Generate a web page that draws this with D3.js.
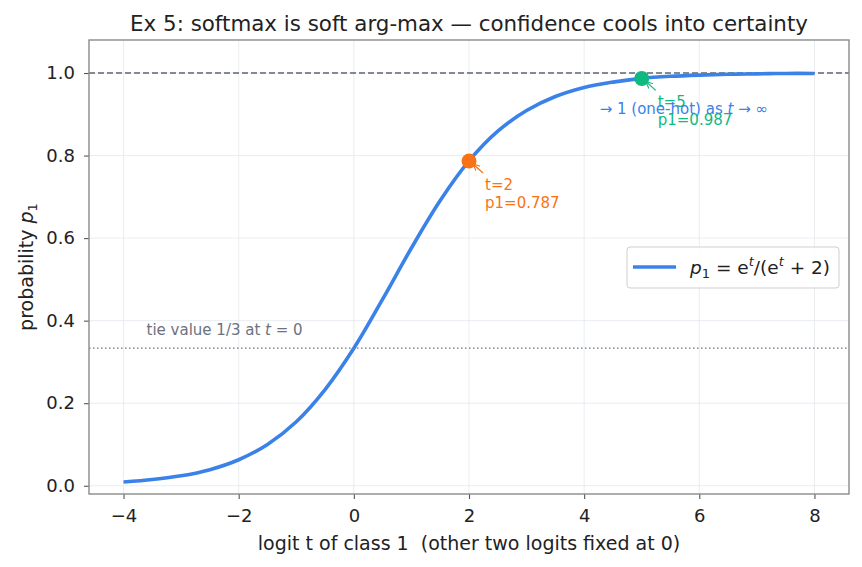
<!DOCTYPE html>
<html>
<head>
<meta charset="utf-8">
<script src="https://cdn.jsdelivr.net/npm/d3@7"></script>
<style>
  body { margin: 0; background: #fff; }
  svg text { font-family: "DejaVu Sans", sans-serif; }
</style>
</head>
<body>
<div id="chart"></div>
<script>
// curve p1
var tVals = [-4, -3.5, -3, -2.5, -2, -1.5, -1, -0.5, 0, 0.5, 1, 1.5, 2, 2.5, 3, 3.5, 4, 4.5, 5, 5.5, 6, 6.5, 7, 7.5, 8];
var pVals = [0.009, 0.015, 0.024, 0.039, 0.063, 0.100, 0.155, 0.233, 0.333, 0.452, 0.576, 0.691, 0.787, 0.859, 0.909, 0.943, 0.965, 0.978, 0.987, 0.992, 0.995, 0.997, 0.998, 0.999, 0.999];

// highlighted points
var markT = [2, 5];
var markP = [0.787, 0.987];
var markColors = ["#f97316", "#10b981"];

var xTicks = [-4, -2, 0, 2, 4, 6, 8];
var yTicks = [0, 0.2, 0.4, 0.6, 0.8, 1.0];

var W = 862, H = 567;
var margin = {left: 89, right: 13, top: 40, bottom: 73};
var width = W - margin.left - margin.right;
var height = H - margin.top - margin.bottom;

var svg = d3.select("#chart").append("svg")
    .attr("width", W)
    .attr("height", H);

var g = svg.append("g")
    .attr("transform", "translate(" + margin.left + "," + margin.top + ")");

var x = d3.scaleLinear().domain([-4.6, 8.6]).range([0, width]);
var y = d3.scaleLinear().domain([-0.02, 1.08]).range([height, 0]);

// grid
g.selectAll(".gx").data(xTicks).enter().append("line")
    .attr("x1", function(d) { return x(d); })
    .attr("x2", function(d) { return x(d); })
    .attr("y1", 0).attr("y2", height)
    .attr("stroke", "#e3e8ee").attr("stroke-width", 0.8);
g.selectAll(".gy").data(yTicks).enter().append("line")
    .attr("y1", function(d) { return y(d); })
    .attr("y2", function(d) { return y(d); })
    .attr("x1", 0).attr("x2", width)
    .attr("stroke", "#e3e8ee").attr("stroke-width", 0.8);

// reference lines
g.append("line")
    .attr("x1", 0).attr("x2", width)
    .attr("y1", y(1)).attr("y2", y(1))
    .attr("stroke", "#5f6670").attr("stroke-width", 1.3)
    .attr("stroke-dasharray", "6,3");
g.append("line")
    .attr("x1", 0).attr("x2", width)
    .attr("y1", y(1 / 3)).attr("y2", y(1 / 3))
    .attr("stroke", "#6b7280").attr("stroke-width", 1.3)
    .attr("stroke-dasharray", "1.5,2.5");

g.append("text")
    .attr("x", x(-3.6)).attr("y", y(1 / 3) - 13)
    .attr("font-size", 15).attr("fill", "#6b7280")
    .html('tie value 1/3 at <tspan font-style="italic">t</tspan> = 0');

// curve
var pts = tVals.map(function(t, i) { return [t, pVals[i]]; });
g.append("path")
    .datum(pts)
    .attr("fill", "none")
    .attr("stroke", "#3b82e8")
    .attr("stroke-width", 3.6)
    .attr("d", d3.line()
        .x(function(d) { return x(d[0]); })
        .y(function(d) { return y(d[1]); })
        .curve(d3.curveCatmullRom));

// arrow heads
var defs = svg.append("defs");
markColors.forEach(function(c, i) {
    defs.append("marker")
        .attr("id", "arr" + i)
        .attr("viewBox", "0 0 10 10")
        .attr("refX", 9).attr("refY", 5)
        .attr("markerWidth", 6).attr("markerHeight", 6)
        .attr("orient", "auto")
        .append("path")
        .attr("d", "M0,1 L9,5 L0,9")
        .attr("fill", "none")
        .attr("stroke", c)
        .attr("stroke-width", 1.5);
});

// annotated points
markT.forEach(function(t, i) {
    var px = x(t), py = y(markP[i]);
    var c = markColors[i];
    g.append("line")
        .attr("x1", px + 14).attr("y1", py + 12)
        .attr("x2", px + 4).attr("y2", py + 3)
        .attr("stroke", c).attr("stroke-width", 1.3)
        .attr("marker-end", "url(#arr" + i + ")");
    g.append("circle")
        .attr("cx", px).attr("cy", py).attr("r", 7.5)
        .attr("fill", c);
    var tx = g.append("text")
        .attr("x", px + 16).attr("y", py + 29)
        .attr("font-size", 15).attr("fill", c);
    tx.append("tspan").attr("x", px + 16).text("t=" + t);
    tx.append("tspan").attr("x", px + 16).attr("dy", 18).text("p1=" + markP[i].toFixed(3));
});

g.append("text")
    .attr("x", x(4.27)).attr("y", y(0.91) + 4)
    .attr("font-size", 15).attr("fill", "#3b82e8")
    .html('\u2192 1 (one-hot) as <tspan font-style="italic">t</tspan> \u2192 \u221e');

// axes
var xAxis = g.append("g")
    .attr("transform", "translate(0," + height + ")")
    .call(d3.axisBottom(x).tickValues(xTicks).tickSize(5).tickPadding(10)
        .tickFormat(function(d) { return d < 0 ? "\u2212" + Math.abs(d) : d; }));
var yAxis = g.append("g")
    .call(d3.axisLeft(y).tickValues(yTicks).tickSize(5).tickPadding(9)
        .tickFormat(d3.format(".1f")));
[xAxis, yAxis].forEach(function(a) {
    a.select(".domain").remove();
    a.selectAll(".tick line").attr("stroke", "#555").attr("stroke-width", 1.1);
    a.selectAll(".tick text").attr("font-size", 18).attr("fill", "#222")
        .attr("font-family", "DejaVu Sans, sans-serif");
});

// frame
g.append("rect")
    .attr("width", width).attr("height", height)
    .attr("fill", "none").attr("stroke", "#8a8a8a").attr("stroke-width", 1.4);

// legend
var lg = svg.append("g").attr("transform", "translate(627,247)");
lg.append("rect")
    .attr("width", 212).attr("height", 41).attr("rx", 3)
    .attr("fill", "#fff").attr("fill-opacity", 0.85)
    .attr("stroke", "#cfcfcf");
lg.append("line")
    .attr("x1", 6).attr("x2", 49).attr("y1", 20).attr("y2", 20)
    .attr("stroke", "#3b82e8").attr("stroke-width", 3.6);
lg.append("text")
    .attr("x", 63).attr("y", 27).attr("font-size", 18.5).attr("fill", "#222")
    .html('<tspan font-style="italic">p</tspan><tspan font-size="13" dy="4">1</tspan><tspan dy="-4"> = e</tspan><tspan font-size="13" font-style="italic" dy="-8">t</tspan><tspan dy="8">/(e</tspan><tspan font-size="13" font-style="italic" dy="-8">t</tspan><tspan dy="8"> + 2)</tspan>');

// titles
svg.append("text")
    .attr("x", margin.left + width / 2).attr("y", 31)
    .attr("text-anchor", "middle").attr("font-size", 21.4).attr("fill", "#222")
    .text("Ex 5: softmax is soft arg-max \u2014 confidence cools into certainty");
svg.append("text")
    .attr("x", margin.left + width / 2).attr("y", 550)
    .attr("text-anchor", "middle").attr("font-size", 19).attr("fill", "#222")
    .attr("xml:space", "preserve")
    .style("white-space", "pre")
    .text("logit t of class 1  (other two logits fixed at 0)");
svg.append("text")
    .attr("transform", "translate(33," + (margin.top + height / 2) + ") rotate(-90)")
    .attr("text-anchor", "middle").attr("font-size", 19).attr("fill", "#222")
    .html('probability <tspan font-style="italic">p</tspan><tspan font-size="13" dy="4">1</tspan>');
</script>
</body>
</html>
